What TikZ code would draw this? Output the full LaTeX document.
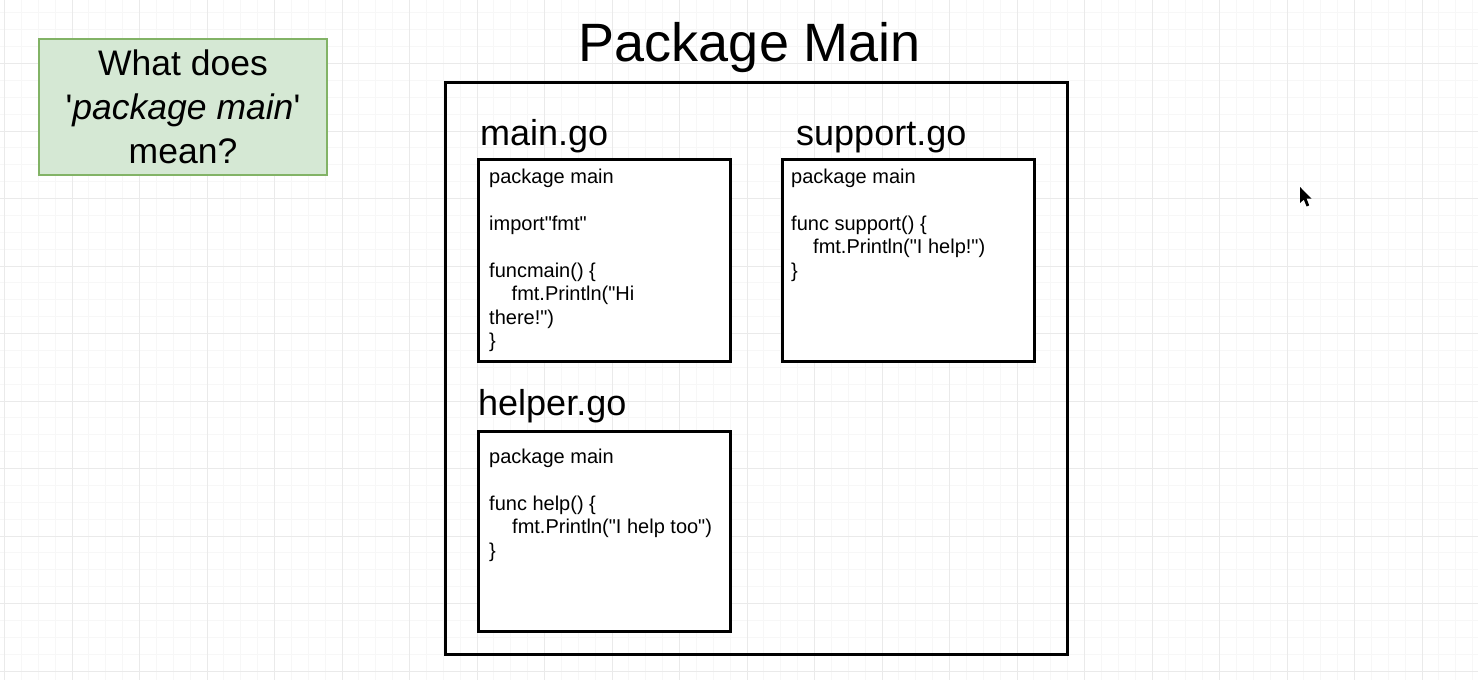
\documentclass[tikz,border=0pt]{standalone}
\usepackage{fontspec}
\setmainfont{Liberation Sans}[Ligatures=TeXOff]
\definecolor{gminor}{HTML}{F7F7F7}
\definecolor{gmajor}{HTML}{EAEAEA}
\definecolor{qfill}{HTML}{D5E8D4}
\definecolor{qdraw}{HTML}{82B366}
\tikzset{
  framebox/.style={draw=black, line width=2.8pt, anchor=north west, inner sep=0pt, outer sep=0pt},
  filebox/.style={draw=black, line width=2.8pt, fill=white, anchor=north west, inner sep=0pt, outer sep=0pt},
  qbox/.style={draw=qdraw, fill=qfill, line width=2.2pt, anchor=north west, inner sep=0pt, outer sep=0pt},
  code/.style={anchor=base west, inner sep=0pt, font=\fontsize{20}{23.5}\selectfont},
  lbl/.style={anchor=base west, inner sep=0pt, font=\fontsize{36}{43}\selectfont},
  qtext/.style={anchor=base, inner sep=0pt, font=\fontsize{35.5}{42}\selectfont},
  titletext/.style={anchor=base, inner sep=0pt, font=\fontsize{54}{64}\selectfont},
}
\begin{document}
\begin{tikzpicture}[x=1pt,y=-1pt]
\useasboundingbox (0,0) rectangle (1478,680);
\fill[white] (0,0) rectangle (1478,680);
% grid
\foreach \i in {0,...,88} {
  \draw[gminor, line width=0.8pt] ({4.5+16.875*\i},0) -- ({4.5+16.875*\i},680);
}
\foreach \j in {1,...,41} {
  \draw[gminor, line width=0.8pt] (0,{-4+16.875*\j}) -- (1478,{-4+16.875*\j});
}
\foreach \i in {0,...,22} {
  \draw[gmajor, line width=1pt] ({4.5+67.5*\i},0) -- ({4.5+67.5*\i},680);
}
\foreach \j in {1,...,10} {
  \draw[gmajor, line width=1pt] (0,{-4+67.5*\j}) -- (1478,{-4+67.5*\j});
}

% question box
\node[qbox, minimum width=287.8pt, minimum height=135.8pt] (q) at (39.1,39.1) {};
\node[qtext] (q1) at (183,75) {What does};
\node[qtext] (q2) at (183,119) {'\textit{package main}'};
\node[qtext] (q3) at (183,163) {mean?};

% title and package frame
\node[titletext] (title) at (750,61) {Package Main};
\node[framebox, minimum width=622.2pt, minimum height=572.2pt] (pkg) at (445.4,82.4) {};

% main.go
\node[lbl] (lmain) at (480,145) {main.go};
\node[filebox, minimum width=252.2pt, minimum height=202.2pt] (bmain) at (478.4,159.4) {};
\node[code] (m1) at (489,183) {package main};
\node[code] (m2) at (489,230) {import"fmt"};
\node[code] (m3) at (489,277) {funcmain() \{};
\node[code] (m4) at (511.5,300.5) {fmt.Println("Hi};
\node[code] (m5) at (489,324) {there!")};
\node[code] (m6) at (489,347.5) {\}};

% support.go
\node[lbl] (lsupport) at (796,145) {support.go};
\node[filebox, minimum width=252.2pt, minimum height=202.2pt] (bsupport) at (782.4,159.4) {};
\node[code] (s1) at (791,183) {package main};
\node[code] (s2) at (791,230) {func support() \{};
\node[code] (s3) at (813,253.5) {fmt.Println("I help!")};
\node[code] (s4) at (791,277) {\}};

% helper.go
\node[lbl] (lhelper) at (478,415) {helper.go};
\node[filebox, minimum width=252.2pt, minimum height=200.2pt] (bhelper) at (478.4,431.4) {};
\node[code] (h1) at (489,463) {package main};
\node[code] (h2) at (489,510) {func help() \{};
\node[code] (h3) at (512,533.5) {fmt.Println("I help too")};
\node[code] (h4) at (489,557) {\}};

% mouse cursor
\fill[black] (1300,187) -- (1300,203) -- (1303.8,199.6) -- (1306.6,206.5) -- (1309.2,205.4) -- (1306.5,198.6) -- (1311.5,198.6) -- cycle;
\end{tikzpicture}
\end{document}
